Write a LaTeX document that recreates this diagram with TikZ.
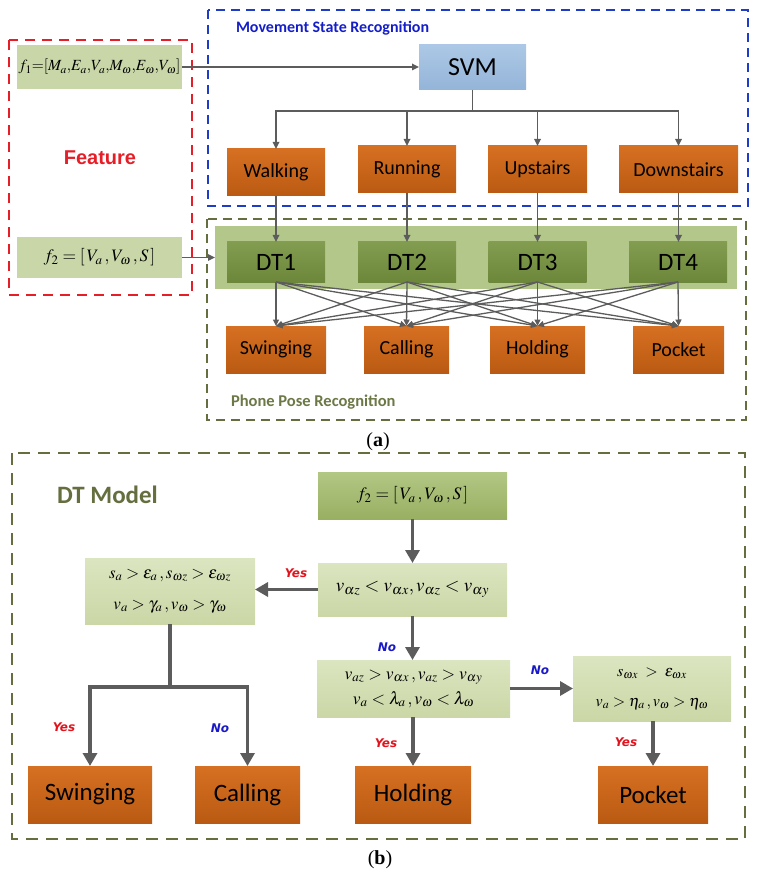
\RequirePackage{fix-cm}
\documentclass[tikz,border=0pt]{standalone}
\usepackage{mathptmx}
\usepackage[no-math]{fontspec}
\setmainfont{Liberation Serif}
\newfontfamily\carlito{Carlito}
\newfontfamily\dejavu{DejaVu Sans}
\newfontfamily\arialf{Liberation Sans}
\usetikzlibrary{arrows.meta}
\definecolor{orTop}{RGB}{214,112,34}
\definecolor{orBot}{RGB}{186,90,18}
\definecolor{dtTop}{RGB}{130,157,80}
\definecolor{dtBot}{RGB}{108,135,58}
\definecolor{band}{RGB}{180,199,138}
\definecolor{fbox}{RGB}{200,214,168}
\definecolor{svmTop}{RGB}{172,200,230}
\definecolor{svmBot}{RGB}{148,180,216}
\definecolor{bfTop}{RGB}{178,199,132}
\definecolor{bfBot}{RGB}{152,176,98}
\definecolor{cTop}{RGB}{219,229,192}
\definecolor{cBot}{RGB}{203,215,166}
\definecolor{arrgray}{RGB}{92,92,92}
\definecolor{bluedash}{RGB}{30,60,200}
\definecolor{bluetxt}{RGB}{20,30,200}
\definecolor{reddash}{RGB}{230,30,40}
\definecolor{olive}{RGB}{100,110,62}
\definecolor{olivetxt}{RGB}{108,120,70}
\definecolor{yesred}{RGB}{225,20,30}
\definecolor{noblue}{RGB}{25,25,200}
\begin{document}
\begin{tikzpicture}[x=1pt,y=-1pt,
  every node/.style={inner sep=0pt,outer sep=0pt},
  obox/.style={top color=orTop,bottom color=orBot,font=\carlito\fontsize{20}{24}\selectfont},
  obig/.style={top color=orTop,bottom color=orBot,font=\carlito\fontsize{25}{28}\selectfont,minimum height=57pt},
  dtbox/.style={top color=dtTop,bottom color=dtBot,minimum width=98pt,minimum height=40pt,font=\carlito\fontsize{25}{30}\selectfont},
  featbox/.style={fill=fbox},
  condbox/.style={top color=cTop,bottom color=cBot,align=center,font=\fontsize{16.5}{30}\selectfont},
  arr/.style={draw=arrgray,line width=1.6pt,-{Triangle[length=7pt,width=6.5pt]},color=arrgray},
  line/.style={draw=arrgray,line width=1.6pt},
  barr/.style={draw=arrgray,line width=3.6pt,-{Triangle[length=13pt,width=14pt]},color=arrgray},
  bline/.style={draw=arrgray,line width=3.6pt},
  yeslbl/.style={text=yesred,font=\dejavu\bfseries\itshape\fontsize{12}{14}\selectfont},
  nolbl/.style={text=noblue,font=\dejavu\bfseries\itshape\fontsize{12}{14}\selectfont}
]
\useasboundingbox (0,0) rectangle (756,874);

% ---------- part (a) ----------
\draw[bluedash,line width=1.4pt,dash pattern=on 9pt off 6pt] (208,10) rectangle (748,206);
\draw[olive,line width=1.4pt,dash pattern=on 9pt off 6pt] (207,219) rectangle (746,420);
\draw[reddash,line width=1.8pt,dash pattern=on 10pt off 7pt] (9,40) rectangle (192,295);

\node[anchor=west,text=bluetxt,font=\carlito\bfseries\fontsize{16}{19}\selectfont] (msr) at (236,28) {Movement State Recognition};
\node[anchor=west,text=olivetxt,font=\carlito\bfseries\fontsize{16.5}{19}\selectfont] (ppr) at (231,402) {Phone Pose Recognition};
\node[text=reddash,font=\arialf\bfseries\fontsize{20}{24}\selectfont] (feat) at (100,158) {Feature};

\node[featbox,minimum width=165pt,minimum height=44pt,font=\fontsize{15.5}{18}\selectfont] (f1) at (99.5,67)
  {$f_1{=}[M_a{,}E_a{,}V_a{,}M_\omega{,}E_\omega{,}V_\omega]$};
\node[featbox,minimum width=165pt,minimum height=41pt,font=\fontsize{17.5}{20}\selectfont] (f2a) at (99.5,257.5)
  {$f_2 = [\,V_a\,, V_\omega\,, S\,]$};

\node[top color=svmTop,bottom color=svmBot,minimum width=107pt,minimum height=45pt,font=\carlito\fontsize{26}{30}\selectfont] (svm) at (472.5,67.5) {SVM};

\node[obox,minimum width=98pt,minimum height=47pt] (walk) at (276,172.5) {Walking};
\node[obox,minimum width=98pt,minimum height=47pt] (run) at (407,169.5) {Running};
\node[obox,minimum width=99pt,minimum height=47pt] (up) at (537.5,169.5) {Upstairs};
\node[obox,minimum width=119pt,minimum height=47pt] (down) at (678.5,169.5) {Downstairs};

\node[fill=band,minimum width=522pt,minimum height=63pt] (bandn) at (476,257.5) {};
\node[dtbox] (dt1) at (276,262) {DT1};
\node[dtbox] (dt2) at (407,262) {DT2};
\node[dtbox] (dt3) at (537.5,262) {DT3};
\node[dtbox] (dt4) at (678,262) {DT4};

\node[obox,minimum width=100pt,minimum height=47pt] (sw) at (276,349.5) {Swinging};
\node[obox,minimum width=85pt,minimum height=47pt] (ca) at (406.5,349.5) {Calling};
\node[obox,minimum width=95pt,minimum height=47pt] (ho) at (537.5,349.5) {Holding};
\node[obox,minimum width=91pt,minimum height=47pt] (po) at (678.5,349.5) {Pocket};

\draw[arr] (f1.east) -- (f1.east -| svm.west);
\draw[arr] (f2a.east) -- (bandn.west |- f2a.east);

\coordinate (split) at (472.5,111);
\draw[line] (svm.south) -- (split);
\draw[arr] (split) -| (walk.north);
\draw[arr] (split) -| (run.north);
\draw[arr] (split) -| (up.north);
\draw[arr] (split) -| (down.north);

\draw[arr] (walk.south) -- (walk.south |- dt1.north);
\draw[arr] (run.south) -- (run.south |- dt2.north);
\draw[arr] (up.south) -- (up.south |- dt3.north);
\draw[arr] (down.south) -- (down.south |- dt4.north);

\foreach \d in {dt1,dt2,dt3,dt4}{
  \foreach \t in {sw,ca,ho,po}{
    \draw[line width=1.3pt,color=arrgray,-{Triangle[length=6.5pt,width=6pt]}] (\d.south) -- (\t.north);
  }
}

\node[font=\fontsize{20}{24}\selectfont] (lbla) at (378,442) {(\textbf{a})};

% ---------- part (b) ----------
\draw[olive,line width=2.4pt,dash pattern=on 12pt off 8pt] (12,453) rectangle (745,839);
\node[anchor=west,text=olive,font=\carlito\bfseries\fontsize{25}{30}\selectfont] (dtm) at (57,495) {DT Model};

\node[top color=bfTop,bottom color=bfBot,minimum width=189pt,minimum height=47pt,font=\fontsize{17.5}{20}\selectfont] (bf2) at (412.5,495.5)
  {$f_2 = [\,V_a\,, V_\omega\,, S\,]$};
\node[condbox,minimum width=189pt,minimum height=53pt,font=\fontsize{19}{22}\selectfont] (c1) at (412.5,589.5)
  {$v_{\alpha z} < v_{\alpha x}, v_{\alpha z} < v_{\alpha y}$};
\node[condbox,minimum width=170pt,minimum height=66pt,font=\fontsize{17}{31}\selectfont] (cl) at (170,591)
  {$s_a > \varepsilon_a\,, s_{\omega z} > \varepsilon_{\omega z}$\\ $v_a > \gamma_a\,, v_\omega > \gamma_\omega$};
\node[condbox,minimum width=193pt,minimum height=57pt,font=\fontsize{17.5}{25}\selectfont] (c2) at (413.5,688.5)
  {$v_{az} > v_{\alpha x}\,, v_{az} > v_{\alpha y}$\\ $v_a < \lambda_a\,, v_\omega < \lambda_\omega$};
\node[condbox,minimum width=158pt,minimum height=65pt,font=\fontsize{16}{30}\selectfont] (cr) at (652,688.5)
  {$s_{\omega x}\; > \;\varepsilon_{\omega x}$\\ $v_a > \eta_a\,, v_\omega > \eta_\omega$};

\node[obig,minimum width=124pt] (bsw) at (90,794.5) {Swinging};
\node[obig,minimum width=105pt] (bca) at (247.5,794.5) {Calling};
\node[obig,minimum width=116pt] (bho) at (413,794.5) {Holding};
\node[obig,minimum width=110pt] (bpo) at (653,794.5) {Pocket};

\draw[barr] (bf2.south) -- (c1.north);
\draw[barr] (c1.west) -- (cl.east |- c1.west);
\draw[barr] (c1.south) -- (c1.south |- c2.north);
\draw[barr] (c2.east) -- (cr.west |- c2.east);
\draw[barr] (c2.south -| bho.north) -- (bho.north);
\draw[barr] (cr.south -| bpo.north) -- (bpo.north);
\coordinate (lsplit) at (170,687);
\draw[bline] (cl.south) -- (lsplit);
\draw[barr] (lsplit) -| (bsw.north);
\draw[barr] (lsplit) -| (bca.north);

\node[yeslbl] (y1) at (296,573) {Yes};
\node[nolbl] (n1) at (387,647) {No};
\node[nolbl] (n2) at (540,670) {No};
\node[yeslbl] (y2) at (64,727) {Yes};
\node[nolbl] (n3) at (220,728) {No};
\node[yeslbl] (y3) at (386,743) {Yes};
\node[yeslbl] (y4) at (626,742) {Yes};

\node[font=\fontsize{20}{24}\selectfont] (lblb) at (380,860) {(\textbf{b})};
\end{tikzpicture}
\end{document}
